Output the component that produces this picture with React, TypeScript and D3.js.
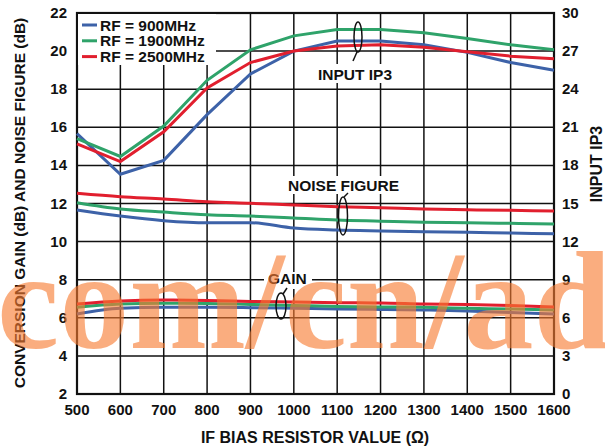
import React from "react";
import * as d3 from "d3";

const resistor = [500, 600, 700, 800, 900, 1000, 1100, 1200, 1300, 1400, 1500, 1600];

// Input IP3 (right axis, dBm)
const ip3_900 = [20.5, 17.3, 18.4, 22.0, 25.2, 27.0, 27.8, 27.8, 27.5, 26.9, 26.1, 25.5];
const ip3_1900 = [20.1, 18.7, 21.1, 24.7, 27.1, 28.2, 28.7, 28.7, 28.45, 28.0, 27.5, 27.1];
const ip3_2500 = [19.7, 18.3, 20.65, 24.1, 26.1, 27.0, 27.4, 27.5, 27.3, 26.95, 26.6, 26.4];

// Noise figure (left axis, dB)
const nf_900 = [11.66, 11.34, 11.1, 10.99, 10.99, 10.71, 10.61, 10.56, 10.52, 10.49, 10.45, 10.41];
const nf_1900 = [12.04, 11.71, 11.55, 11.41, 11.34, 11.24, 11.13, 11.07, 11.01, 10.99, 10.96, 10.92];
const nf_2500 = [12.54, 12.36, 12.24, 12.09, 12.01, 11.92, 11.83, 11.78, 11.71, 11.67, 11.64, 11.61];

// Conversion gain (left axis, dB)
const gain_900 = [6.2, 6.5, 6.55, 6.55, 6.53, 6.5, 6.46, 6.44, 6.41, 6.36, 6.28, 6.2];
const gain_1900 = [6.55, 6.72, 6.76, 6.75, 6.7, 6.65, 6.59, 6.57, 6.55, 6.5, 6.46, 6.41];
const gain_2500 = [6.72, 6.88, 6.93, 6.91, 6.86, 6.83, 6.79, 6.78, 6.72, 6.7, 6.65, 6.57];

const xTicks = [500, 600, 700, 800, 900, 1000, 1100, 1200, 1300, 1400, 1500, 1600];
const leftTicks = [2, 4, 6, 8, 10, 12, 14, 16, 18, 20, 22];
const rightTicks = [0, 3, 6, 9, 12, 15, 18, 21, 24, 27, 30];

const seriesNames = ["RF = 900MHz", "RF = 1900MHz", "RF = 2500MHz"];
const seriesColors = ["#3d62a8", "#2fa36a", "#e11f2e"];

const W = 605;
const H = 448;
const L = 77, R = 554, T = 13, B = 394;
const FONT = "'Liberation Sans', Arial, Helvetica, sans-serif";

export default function App() {
  const x = d3.scaleLinear().domain([500, 1600]).range([L, R]);
  const yL = d3.scaleLinear().domain([2, 22]).range([B, T]);
  const yR = d3.scaleLinear().domain([0, 30]).range([B, T]);

  const mk = (ys: number[], sc: d3.ScaleLinear<number, number>, curve: d3.CurveFactory) =>
    d3
      .line<number>()
      .x((_, i) => x(resistor[i]))
      .y((v) => sc(v))
      .curve(curve)(ys) as string;

  const ip3 = [ip3_900, ip3_1900, ip3_2500];
  const nf = [nf_900, nf_1900, nf_2500];
  const gain = [gain_900, gain_1900, gain_2500];

  return (
    <svg
      width={W}
      height={H}
      style={{ position: "absolute", left: 0, top: 0, background: "#fff" }}
      fontFamily={FONT}
      fontWeight="bold"
    >
      <rect x={0} y={0} width={W} height={H} fill="#fff" />
      {/* grid */}
      {xTicks.map((t) => (
        <line key={"gx" + t} x1={x(t)} x2={x(t)} y1={T} y2={B} stroke="#111" strokeWidth={1.5} />
      ))}
      {leftTicks.map((t) => (
        <line key={"gy" + t} x1={L} x2={R} y1={yL(t)} y2={yL(t)} stroke="#111" strokeWidth={1.5} />
      ))}
      <rect x={L} y={T} width={R - L} height={B - T} fill="none" stroke="#111" strokeWidth={2.2} />

      {/* curves */}
      {gain.map((s, i) => (
        <path key={"g" + i} d={mk(s, yL, d3.curveMonotoneX)} fill="none" stroke={seriesColors[i]} strokeWidth={3} />
      ))}
      {nf.map((s, i) => (
        <path key={"n" + i} d={mk(s, yL, d3.curveMonotoneX)} fill="none" stroke={seriesColors[i]} strokeWidth={3} />
      ))}
      {ip3.map((s, i) => (
        <path key={"p" + i} d={mk(s, yR, d3.curveLinear)} fill="none" stroke={seriesColors[i]} strokeWidth={3} />
      ))}

      {/* legend */}
      <rect x={L + 1} y={T + 1} width={138} height={51} fill="#fff" />
      {seriesNames.map((n, i) => (
        <g key={"lg" + i}>
          <line x1={82} x2={97} y1={25 + i * 15.8} y2={25 + i * 15.8} stroke={seriesColors[i]} strokeWidth={3} />
          <text x={100} y={30.5 + i * 15.8} fontSize={15.5} fill="#111">
            {n}
          </text>
        </g>
      ))}

      {/* annotations */}
      <rect x={315} y={64} width={81} height={19} fill="#fff" />
      <text x={318} y={80} fontSize={15.5} fill="#111">INPUT IP3</text>
      <ellipse cx={358} cy={37} rx={4} ry={15} fill="none" stroke="#111" strokeWidth={1.5} />
      <line x1={357} y1={52} x2={353} y2={61} stroke="#111" strokeWidth={1.5} />

      <rect x={285} y={176} width={120} height={18} fill="#fff" />
      <text x={288} y={191} fontSize={15.5} fill="#111">NOISE FIGURE</text>
      <ellipse cx={343} cy={216} rx={4.5} ry={19} fill="none" stroke="#111" strokeWidth={1.5} />
      <line x1={344} y1={197} x2={348} y2={193} stroke="#111" strokeWidth={1.5} />

      <rect x={264} y={272} width={48} height={17} fill="#fff" />
      <text x={268} y={284} fontSize={15.5} fill="#111">GAIN</text>
      <ellipse cx={281} cy={306} rx={5} ry={13} fill="none" stroke="#111" strokeWidth={1.5} />
      <line x1={283} y1={294} x2={287} y2={288} stroke="#111" strokeWidth={1.5} />

      {/* axis labels */}
      {leftTicks.map((t) => (
        <text key={"lt" + t} x={67} y={yL(t) + 5} fontSize={15} textAnchor="end" fill="#111">
          {t}
        </text>
      ))}
      {rightTicks.map((t) => (
        <text key={"rt" + t} x={562} y={yR(t) + 5} fontSize={15} textAnchor="start" fill="#111">
          {t}
        </text>
      ))}
      {xTicks.map((t) => (
        <text key={"xt" + t} x={x(t)} y={415} fontSize={15} textAnchor="middle" fill="#111">
          {t}
        </text>
      ))}

      <text x={315} y={443} fontSize={16} textAnchor="middle" fill="#111">
        IF BIAS RESISTOR VALUE (Ω)
      </text>
      <text
        transform="translate(25,203) rotate(-90)"
        fontSize={15.5}
        textAnchor="middle"
        fill="#111"
      >
        CONVERSION GAIN (dB) AND NOISE FIGURE (dB)
      </text>
      <text transform="translate(602,164) rotate(-90)" fontSize={16} textAnchor="middle" fill="#111">
        INPUT IP3
      </text>

      {/* watermark */}
      <text
        x={-3}
        y={348}
        fontSize={140}
        fontFamily="'Liberation Serif', 'Times New Roman', serif"
        fontWeight="bold"
        fill="#f77a30"
        fillOpacity={0.62}
      >
        com/cn/ad
      </text>
    </svg>
  );
}
